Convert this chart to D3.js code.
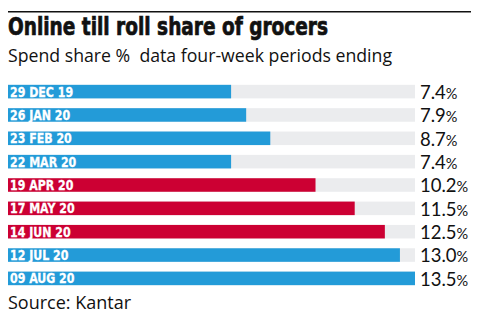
<!DOCTYPE html>
<html>
<head>
<meta charset="utf-8">
<script src="https://cdn.jsdelivr.net/npm/d3@7"></script>
<style>
  html, body { margin: 0; padding: 0; background: #fff; }
  svg { display: block; }
</style>
</head>
<body>
<svg id="chart" width="480" height="322"></svg>
<script>
// Four-week periods ending, online share of grocery till roll (%)
const periods = ["29 DEC 19", "26 JAN 20", "23 FEB 20", "22 MAR 20", "19 APR 20",
                 "17 MAY 20", "14 JUN 20", "12 JUL 20", "09 AUG 20"];
const shares = [7.4, 7.9, 8.7, 7.4, 10.2, 11.5, 12.5, 13.0, 13.5];
// Lockdown periods are highlighted
const highlighted = [false, false, false, false, true, true, true, false, false];

const W = 480, H = 322;
const svg = d3.select("#chart");

const x = d3.scaleLinear().domain([0, 13.5]).range([8, 415]);
const y = d3.scaleBand().domain(periods).range([82.5, 287.5]).paddingInner(0.42).paddingOuter(0.1);

const BLUE = "#239bd8", RED = "#cc0033", TRACK = "#ebecee";

// Top rule
svg.append("rect").attr("x", 8).attr("y", 11).attr("width", 463).attr("height", 1.5).attr("fill", "#111");

// Title and subtitle
svg.append("text").attr("x", 8).attr("y", 35)
  .attr("font-family", "'DejaVu Sans Condensed', 'DejaVu Sans', sans-serif")
  .attr("font-weight", "bold").attr("font-size", 25).attr("fill", "#111")
  .attr("stroke", "#111").attr("stroke-width", 0.7)
  .attr("textLength", 320).attr("lengthAdjust", "spacingAndGlyphs")
  .text("Online till roll share of grocers");

svg.append("text").attr("x", 8).attr("y", 62)
  .attr("font-family", "'Open Sans', sans-serif")
  .attr("font-size", 18.5).attr("fill", "#111")
  .attr("xml:space", "preserve").style("white-space", "pre")
  .attr("textLength", 384).attr("lengthAdjust", "spacingAndGlyphs")
  .text("Spend share %  data four-week periods ending");

const rows = svg.append("g").selectAll("g").data(periods).join("g")
  .attr("transform", d => `translate(0,${y(d)})`);

// Background tracks
rows.append("rect").attr("x", x(0)).attr("y", 0)
  .attr("width", x(13.5) - x(0)).attr("height", y.bandwidth()).attr("fill", TRACK);

// Value bars
rows.append("rect").attr("x", x(0)).attr("y", 0)
  .attr("width", (d, i) => x(shares[i]) - x(0)).attr("height", y.bandwidth())
  .attr("fill", (d, i) => highlighted[i] ? RED : BLUE);

// Period labels inside bars (narrowed bold caps)
rows.append("text")
  .attr("transform", `translate(10,${y.bandwidth() - 1.8}) scale(0.875,1)`)
  .attr("font-family", "'DejaVu Sans Condensed', 'DejaVu Sans', sans-serif")
  .attr("font-weight", "bold").attr("font-size", 14).attr("fill", "#fff")
  .attr("stroke", "#fff").attr("stroke-width", 0.3)
  .text(d => d);

// Value labels on the right
const vals = rows.append("text").attr("x", 420).attr("y", y.bandwidth() + 0.5)
  .attr("font-family", "Lato, sans-serif").attr("fill", "#111");
vals.append("tspan").attr("font-size", 18.5).text((d, i) => shares[i].toFixed(1));
vals.append("tspan").attr("font-size", 14.5).text("%");

// Source
svg.append("text").attr("x", 8).attr("y", 309)
  .attr("font-family", "'Open Sans', sans-serif").attr("font-size", 18).attr("fill", "#111")
  .text("Source: Kantar");
</script>
</body>
</html>
